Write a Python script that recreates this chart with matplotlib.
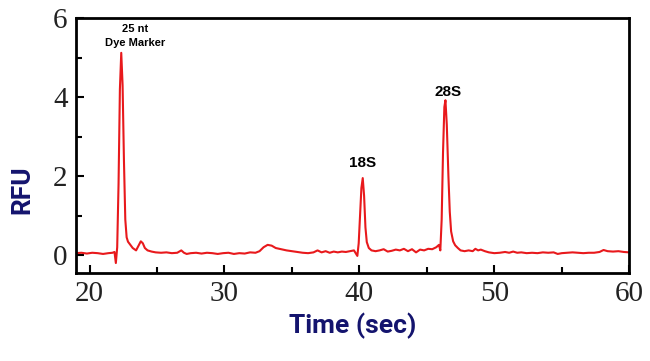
import numpy as np
import matplotlib.pyplot as plt
from matplotlib.ticker import MultipleLocator

# trace (time in sec, fluorescence in RFU)
time = [19.0, 19.4, 19.8, 20.2, 20.6, 21.0, 21.4, 21.7, 21.85, 21.95,
        22.05, 22.15, 22.25, 22.35, 22.45, 22.55, 22.65, 22.75, 22.85, 23.0,
        23.2, 23.45, 23.6, 23.8, 23.95, 24.1, 24.3, 24.6, 24.9, 25.3,
        25.7, 26.1, 26.5, 26.8, 27.0, 27.2, 27.5, 27.9, 28.3, 28.7,
        29.1, 29.5, 29.9, 30.3, 30.7, 31.1, 31.5, 31.9, 32.3, 32.6,
        32.9, 33.2, 33.5, 33.8, 34.2, 34.6, 35.0, 35.4, 35.8, 36.2,
        36.6, 36.9, 37.2, 37.5, 37.8, 38.1, 38.4, 38.7, 39.0, 39.3,
        39.6, 39.85, 39.95, 40.05, 40.15, 40.25, 40.35, 40.45, 40.55, 40.7,
        40.9, 41.2, 41.5, 41.8, 42.1, 42.4, 42.7, 43.0, 43.3, 43.6,
        43.9, 44.2, 44.5, 44.8, 45.1, 45.4, 45.7, 45.9, 46.0, 46.1,
        46.2, 46.3, 46.38, 46.48, 46.6, 46.7, 46.8, 46.95, 47.1, 47.3,
        47.5, 47.8, 48.1, 48.4, 48.6, 48.8, 49.0, 49.3, 49.6, 50.0,
        50.4, 50.8, 51.1, 51.4, 51.7, 52.0, 52.4, 52.8, 53.2, 53.6,
        54.0, 54.4, 54.7, 55.0, 55.4, 55.8, 56.2, 56.6, 57.0, 57.4,
        57.8, 58.1, 58.4, 58.8, 59.2, 59.6, 60.0]
rfu = [0.05, 0.06, 0.04, 0.06, 0.05, 0.03, 0.05, 0.06, 0.08, -0.2,
       0.2, 1.8, 4.2, 5.12, 4.3, 2.4, 0.9, 0.45, 0.34, 0.27,
       0.18, 0.12, 0.22, 0.35, 0.3, 0.18, 0.12, 0.09, 0.07, 0.06,
       0.07, 0.05, 0.06, 0.12, 0.06, 0.03, 0.05, 0.06, 0.04, 0.06,
       0.05, 0.03, 0.05, 0.06, 0.03, 0.05, 0.04, 0.07, 0.06, 0.1,
       0.2, 0.26, 0.24, 0.18, 0.15, 0.12, 0.1, 0.08, 0.06, 0.05,
       0.07, 0.12, 0.07, 0.1, 0.06, 0.09, 0.07, 0.09, 0.08, 0.1,
       0.12, -0.02, 0.3, 1.0, 1.7, 1.95, 1.5, 0.7, 0.33, 0.18,
       0.12, 0.1, 0.12, 0.15, 0.09, 0.11, 0.14, 0.12, 0.16, 0.1,
       0.15, 0.07, 0.14, 0.12, 0.16, 0.15, 0.2, 0.26, 0.12, 0.9,
       2.6, 3.75, 3.92, 3.3, 2.0, 1.1, 0.6, 0.35, 0.25, 0.18,
       0.12, 0.1, 0.12, 0.1, 0.16, 0.12, 0.14, 0.1, 0.07, 0.05,
       0.06, 0.08, 0.06, 0.09, 0.06, 0.07, 0.05, 0.06, 0.05, 0.07,
       0.06, 0.07, 0.03, 0.05, 0.06, 0.07, 0.06, 0.05, 0.06, 0.06,
       0.08, 0.13, 0.1, 0.09, 0.1, 0.08, 0.07]

# peak labels: (text, time, rfu)
labels = [("25 nt", 23.4, 5.72), ("Dye Marker", 23.4, 5.36),
          ("18S", 40.25, 2.33), ("28S", 46.6, 4.12)]

navy = "#14146e"

fig = plt.figure(figsize=(6.5, 3.61), dpi=100)
ax = fig.add_axes([0.117, 0.244, 0.851, 0.706])
ax.plot(time, rfu, color="#e8191c", lw=1.5)

ax.set_xlim(19, 60)
ax.set_ylim(-0.45, 6)
ax.xaxis.set_major_locator(MultipleLocator(10))
ax.xaxis.set_minor_locator(MultipleLocator(5))
ax.yaxis.set_major_locator(MultipleLocator(2))
ax.yaxis.set_minor_locator(MultipleLocator(1))
ax.tick_params(which="both", direction="in", width=1.5, top=False, right=False)
ax.tick_params(which="major", length=6, labelsize=21, pad=6, labelcolor="#222222")
ax.tick_params(which="minor", length=4)
for lab in ax.get_xticklabels() + ax.get_yticklabels():
    lab.set_family("Liberation Serif")
for sp in ax.spines.values():
    sp.set_linewidth(2)

ax.set_xlabel("Time (sec)", fontsize=19, fontweight="bold", color=navy,
              family="Roboto", labelpad=4)
ax.set_ylabel("RFU", fontsize=19, fontweight="bold", color=navy,
              family="Roboto")
ax.yaxis.set_label_coords(-0.075, 0.325)

for txt, t, v in labels:
    size = 8 if txt in ("25 nt", "Dye Marker") else 11
    ax.text(t, v, txt, ha="center", va="center", fontsize=size,
            fontweight="bold", family="Liberation Sans")

fig.savefig("out.png", dpi=100)
